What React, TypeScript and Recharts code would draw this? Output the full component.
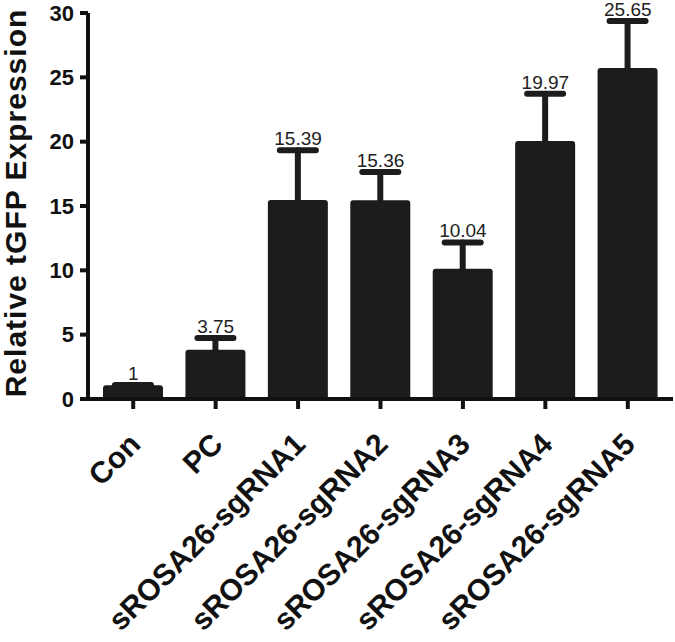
import { ComposedChart, Bar, Line, XAxis, YAxis, ErrorBar, LabelList } from 'recharts'

const FONT = '"Liberation Sans", Arial, Helvetica, sans-serif'
const INK = '#111111'
const BAR = '#1c1c1c'

const categories = [
  'Con',
  'PC',
  'sROSA26-sgRNA1',
  'sROSA26-sgRNA2',
  'sROSA26-sgRNA3',
  'sROSA26-sgRNA4',
  'sROSA26-sgRNA5',
]
const means = [1, 3.75, 15.39, 15.36, 10.04, 19.97, 25.65]
const errors = [0.09, 1.0, 3.94, 2.29, 2.13, 3.76, 3.72]
const valueLabels = ['1', '3.75', '15.39', '15.36', '10.04', '19.97', '25.65']
const yTicks = [0, 5, 10, 15, 20, 25, 30]

const data = categories.map((name, i) => ({
  name,
  mean: means[i],
  err: errors[i],
  capTop: means[i] + errors[i],
  label: valueLabels[i],
}))

function CategoryTick({ x, y, payload }: any) {
  return (
    <g transform={`translate(${x + 9},${y + 37})`}>
      <text
        textAnchor="end"
        transform="rotate(-45)"
        fontSize={30}
        fontWeight="bold"
        fontFamily={FONT}
        fill={INK}
      >
        {payload.value}
      </text>
    </g>
  )
}

function YTitle(props: any) {
  const { viewBox } = props
  const cx = 26
  const cy = viewBox.y + viewBox.height / 2 - 3
  return (
    <text
      x={cx}
      y={cy}
      transform={`rotate(-90, ${cx}, ${cy})`}
      textAnchor="middle"
      fontSize={30}
      letterSpacing={1}
      fontWeight="bold"
      fontFamily={FONT}
      fill={INK}
    >
      Relative tGFP Expression
    </text>
  )
}

export default function App() {
  return (
    <div style={{ position: 'absolute', left: 0, top: 0, background: '#fff' }}>
      <ComposedChart
        width={675}
        height={642}
        data={data}
        margin={{ top: 13, right: 2, bottom: 0, left: 0 }}
      >
        <XAxis
          dataKey="name"
          height={243}
          interval={0}
          padding={{ left: 4, right: 4 }}
          axisLine={{ stroke: INK, strokeWidth: 4 }}
          tickLine={{ stroke: INK, strokeWidth: 4 }}
          tickSize={10}
          tickMargin={0}
          tick={<CategoryTick />}
        />
        <YAxis
          width={88}
          domain={[0, 30]}
          ticks={yTicks}
          interval={0}
          axisLine={{ stroke: INK, strokeWidth: 4 }}
          tickLine={{ stroke: INK, strokeWidth: 4 }}
          tickSize={8}
          tickMargin={6}
          tick={{ fontSize: 22, fontWeight: 'bold', fill: INK, fontFamily: FONT }}
          label={<YTitle />}
        />
        <Bar
          dataKey="mean"
          fill={BAR}
          stroke={BAR}
          strokeWidth={2}
          barSize={58}
          radius={2}
          isAnimationActive={false}
        >
          <ErrorBar
            dataKey="err"
            direction="y"
            width={18}
            stroke={BAR}
            strokeWidth={6}
            strokeLinecap="round"
            isAnimationActive={false}
          />
        </Bar>
        <Line
          dataKey="capTop"
          stroke="none"
          dot={false}
          activeDot={false}
          legendType="none"
          isAnimationActive={false}
        >
          <LabelList
            dataKey="label"
            position="top"
            offset={5}
            fontSize={19}
            fontFamily={FONT}
            fill="#222"
          />
        </Line>
      </ComposedChart>
    </div>
  )
}
